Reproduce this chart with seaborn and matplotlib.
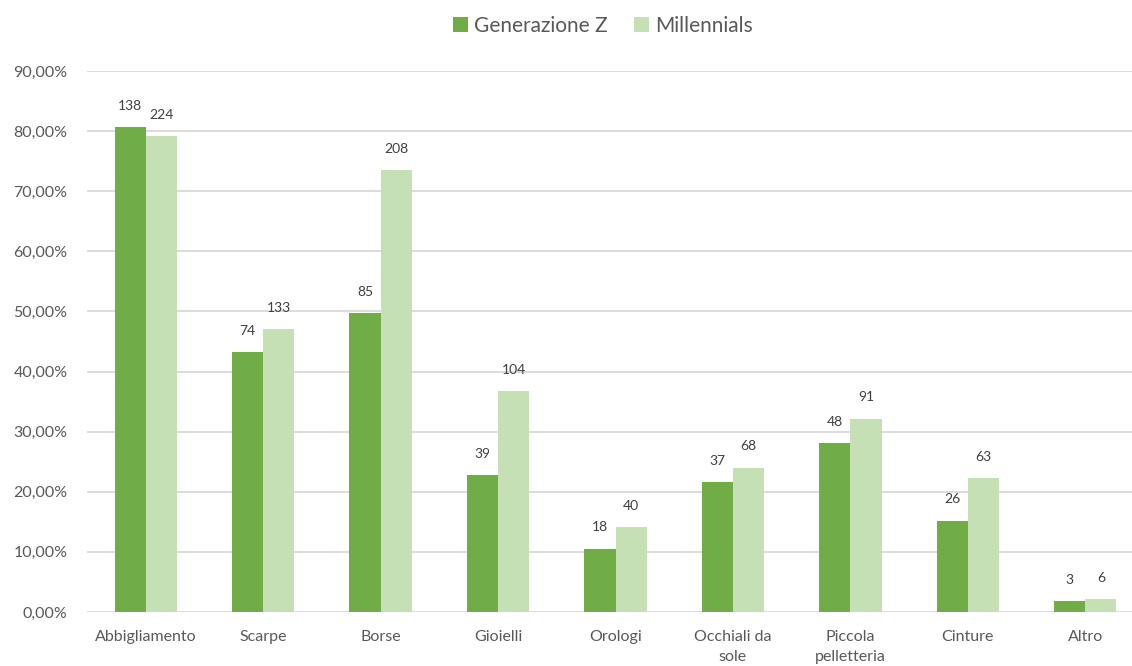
import matplotlib
matplotlib.use("Agg")
import matplotlib.pyplot as plt
import seaborn as sns
import pandas as pd
from matplotlib.ticker import FuncFormatter, MultipleLocator

categories = ["Abbigliamento", "Scarpe", "Borse", "Gioielli", "Orologi",
              "Occhiali da\nsole", "Piccola\npelletteria", "Cinture", "Altro"]
series = ["Generazione Z", "Millennials"]
genz_pct = [80.70, 43.27, 49.71, 22.81, 10.53, 21.64, 28.07, 15.20, 1.75]
mill_pct = [79.15, 47.00, 73.50, 36.75, 14.13, 24.03, 32.16, 22.26, 2.12]
genz_cnt = [138, 74, 85, 39, 18, 37, 48, 26, 3]
mill_cnt = [224, 133, 208, 104, 40, 68, 91, 63, 6]

df = pd.DataFrame({
    "cat": categories * 2,
    "serie": [series[0]] * len(categories) + [series[1]] * len(categories),
    "pct": [v / 100 for v in genz_pct + mill_pct],
})

sns.set_theme(style="white")
plt.rcParams["font.family"] = ["Lato", "DejaVu Sans"]
txt = "#595959"

fig = plt.figure(figsize=(11.32, 6.66), dpi=100)
W, H = 1132, 666
ax = fig.add_axes([87 / W, (H - 612) / H, 1057 / W, 541 / H])

sns.barplot(data=df, x="cat", y="pct", hue="serie", hue_order=series,
            order=categories, palette=["#70AD47", "#C5E0B4"], width=0.53,
            saturation=1, ax=ax, zorder=3, legend=True, linewidth=0)

ax.set_ylim(0, 0.9)
ax.yaxis.set_major_locator(MultipleLocator(0.1))
ax.yaxis.set_major_formatter(FuncFormatter(lambda v, p: f"{v*100:.2f}%".replace(".", ",")))
ax.grid(axis="y", color="#D9D9D9", linewidth=1.3, zorder=0)
ax.set_axisbelow(True)
for s in ax.spines.values():
    s.set_visible(False)
ax.set_xlabel("")
ax.set_ylabel("")
ax.tick_params(axis="both", length=0, labelsize=11.5, colors=txt)
ax.tick_params(axis="x", pad=13)
ax.tick_params(axis="y", pad=14)
for lbl in ax.get_xticklabels():
    lbl.set_linespacing(1.5)

for cont, cnts in zip(ax.containers, [genz_cnt, mill_cnt]):
    ax.bar_label(cont, labels=[str(c) for c in cnts], padding=11,
                 fontsize=10, color="#404040")

handles, labels = ax.get_legend_handles_labels()
ax.legend(handles, labels, loc="center",
          bbox_to_anchor=((603 - 87) / 1057, (612 - 26) / 541),
          bbox_transform=ax.transAxes, ncol=2, frameon=False, fontsize=15,
          handlelength=0.7, handleheight=0.7, handletextpad=0.3, columnspacing=1.3,
          labelcolor=txt)

fig.savefig("out.png", dpi=100)
